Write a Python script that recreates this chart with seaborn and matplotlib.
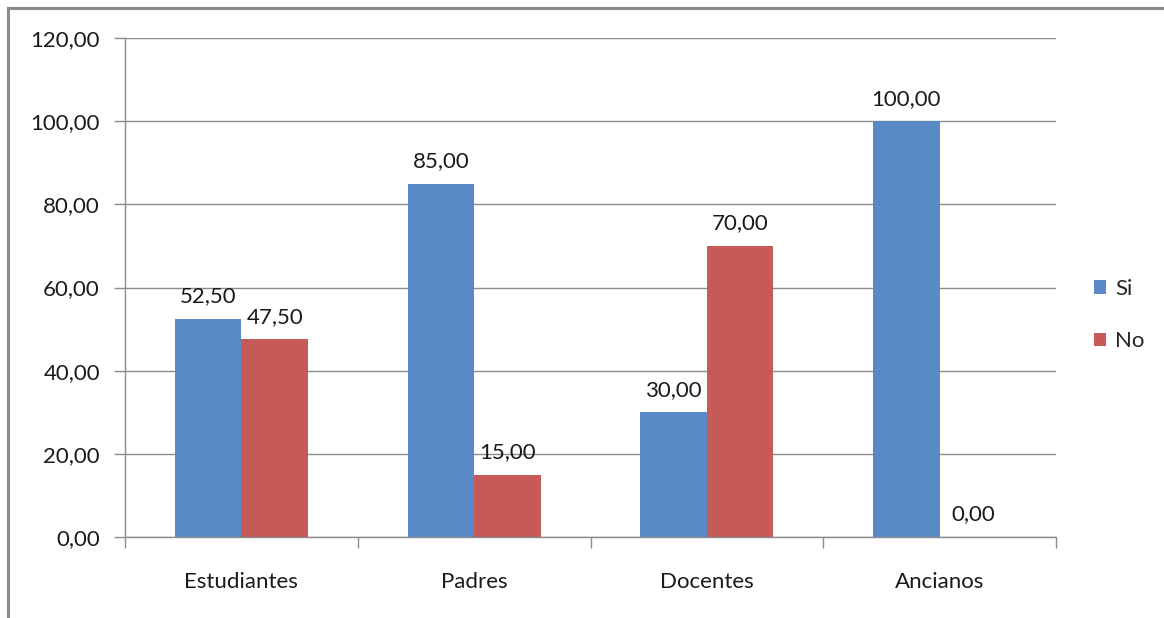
import matplotlib
matplotlib.use("Agg")
import matplotlib.pyplot as plt
from matplotlib.patches import Rectangle
from matplotlib.ticker import FixedLocator
import seaborn as sns
import pandas as pd

categories = ["Estudiantes", "Padres", "Docentes", "Ancianos"]
series_names = ["Si", "No"]
si_values = [52.50, 85.00, 30.00, 100.00]
no_values = [47.50, 15.00, 70.00, 0.00]
y_ticks = [0, 20, 40, 60, 80, 100, 120]

colors = {"Si": "#5A8AC6", "No": "#C55A57"}

df = pd.DataFrame({
    "grupo": categories * 2,
    "serie": ["Si"] * len(categories) + ["No"] * len(categories),
    "valor": si_values + no_values,
})

sns.set_theme(style="white")
plt.rcParams["font.family"] = ["Lato", "DejaVu Sans"]

fig = plt.figure(figsize=(11.64, 6.18), dpi=100)
ax = fig.add_axes([125 / 1164, 1 - 537 / 618, (1056 - 125) / 1164, (537 - 38) / 618])

sns.barplot(data=df, x="grupo", y="valor", hue="serie", hue_order=series_names,
            order=categories, palette=colors, width=0.572, saturation=1,
            edgecolor="none", linewidth=0, ax=ax, legend=True)

ax.set_ylim(0, 120)
ax.set_xlim(-0.5, len(categories) - 0.5)
ax.set_yticks(y_ticks)
ax.set_yticklabels([f"{v:.2f}".replace(".", ",") for v in y_ticks])
ax.set_xlabel("")
ax.set_ylabel("")

text_color = "#1a1a1a"
fs = 16

grid_color = "#8C8C8C"
ax.yaxis.grid(True, color=grid_color, linewidth=1)
ax.set_axisbelow(True)
for side in ["top", "right"]:
    ax.spines[side].set_visible(False)
for side in ["left", "bottom"]:
    ax.spines[side].set_color(grid_color)
    ax.spines[side].set_linewidth(1)

ax.tick_params(axis="y", which="major", left=True, length=8, width=1,
               color=grid_color, labelsize=fs, labelcolor=text_color, pad=10)
ax.tick_params(axis="x", which="major", bottom=False, labelsize=fs,
               labelcolor=text_color, pad=19)
ax.xaxis.set_minor_locator(FixedLocator([i - 0.5 for i in range(len(categories) + 1)]))
ax.tick_params(axis="x", which="minor", bottom=True, length=8, width=1,
               color=grid_color, direction="out")

for container in ax.containers:
    ax.bar_label(container, labels=[f"{v:.2f}".replace(".", ",") for v in container.datavalues],
                 padding=9, fontsize=fs, color=text_color)

handles, labels = ax.get_legend_handles_labels()
leg = ax.legend(handles, labels, loc="center left", bbox_to_anchor=(1.041, 0.445),
                frameon=False, fontsize=fs, handlelength=0.55, handleheight=0.55,
                handletextpad=0.4, labelspacing=1.45, borderpad=0, borderaxespad=0)

# outer chart frame
frame_color = "#8A8A8A"
fig.add_artist(Rectangle((8 / 1164, -0.1), 1.2, 1 - 8 / 618 + 0.1,
                         transform=fig.transFigure, fill=False,
                         edgecolor=frame_color, linewidth=2.2, clip_on=False))

fig.savefig("out.png", dpi=100, facecolor="white")
